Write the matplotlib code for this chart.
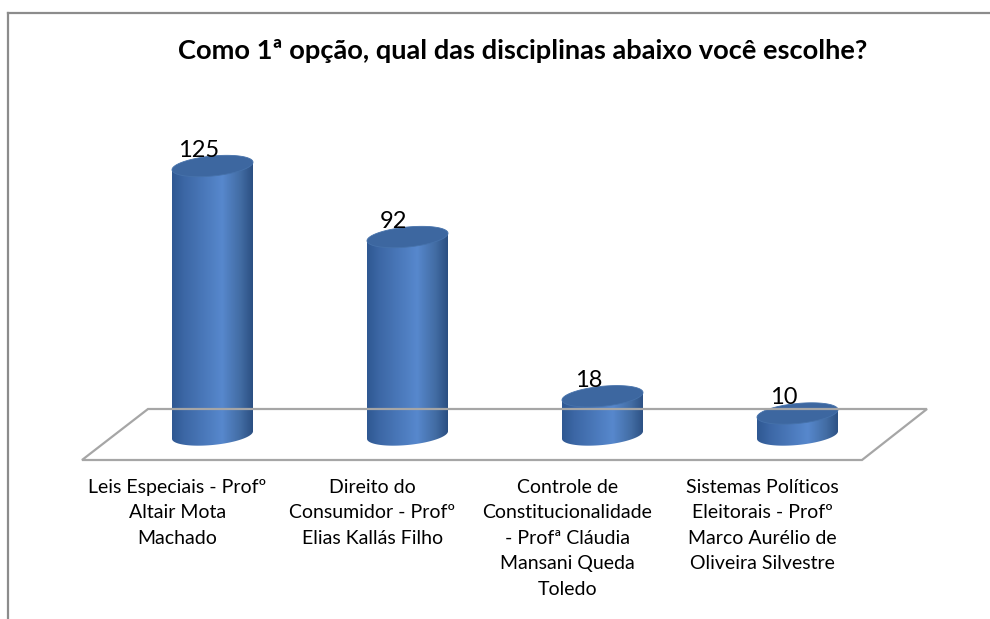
import numpy as np
import matplotlib
matplotlib.use("Agg")
import matplotlib.pyplot as plt
from matplotlib.patches import Polygon
from matplotlib.lines import Line2D
from matplotlib.colors import LinearSegmentedColormap

plt.rcParams['font.family'] = ['Lato', 'DejaVu Sans']

# dados
titulo = "Como 1ª opção, qual das disciplinas abaixo você escolhe?"
categorias = [
    "Leis Especiais - Profº\nAltair Mota\nMachado",
    "Direito do\nConsumidor - Profº\nElias Kallás Filho",
    "Controle de\nConstitucionalidade\n- Profª Cláudia\nMansani Queda\nToledo",
    "Sistemas Políticos\nEleitorais - Profº\nMarco Aurélio de\nOliveira Silvestre",
]
valores = [125, 92, 18, 10]

W, H = 990, 619
fig = plt.figure(figsize=(W / 100, H / 100), dpi=100)
ax = fig.add_axes([0, 0, 1, 1])
ax.axis("off")

def px(x, y):
    # pixels (origem no topo) -> fração da figura
    return (x / W, 1 - y / H)

# borda do gráfico (só topo e esquerda aparecem)
fig.add_artist(Line2D([px(8, 13)[0], 1], [px(8, 13)[1]] * 2, color="#8c8c8c", lw=1.6))
fig.add_artist(Line2D([px(8, 13)[0]] * 2, [px(8, 13)[1], 0], color="#8c8c8c", lw=1.6))

# piso 3D
piso = [px(148, 409), px(927, 409), px(862, 460), px(82, 460)]
fig.add_artist(Polygon(piso, closed=True, fill=False, ec="#a6a6a6", lw=1.6,
                       transform=fig.transFigure, zorder=1))

# escalas: indice -> x, valor -> y
x0, dx = 212.5, 195.0
y0, dy = 435.0, 2.152
ax.set_xlim(-x0 / dx, (W - x0) / dx)
ax.set_ylim(-(H - y0) / dy, y0 / dy)

a = 40.5 / dx      # semi-eixo horizontal
b = 10.0 / dy      # semi-eixo vertical
k = 3.75 / dy      # inclinação da elipse

cmap = LinearSegmentedColormap.from_list("cil", [
    (0.0, "#2f5892"), (0.15, "#3c67a5"), (0.62, "#5788cd"),
    (0.85, "#426ca3"), (1.0, "#2b4f82")])
grad = np.linspace(0, 1, 256).reshape(1, -1)

t_low = np.linspace(np.pi, 2 * np.pi, 80)
t_all = np.linspace(0, 2 * np.pi, 160)

for i, v in enumerate(valores):
    cx = i
    # corpo
    bx = cx + a * np.cos(t_low)
    by = b * np.sin(t_low) + k * np.cos(t_low)
    xs = np.concatenate([[cx - a], bx, [cx + a, cx - a]])
    ys = np.concatenate([[v - k], by, [v + k, v - k]])
    corpo = Polygon(np.column_stack([xs, ys]), closed=True, fc="none", ec="none")
    ax.add_patch(corpo)
    im = ax.imshow(grad, cmap=cmap, aspect="auto", zorder=3,
                   extent=[cx - a, cx + a, -b - k, v + b + k])
    im.set_clip_path(corpo)
    # tampa
    tx = cx + a * np.cos(t_all)
    ty = v + b * np.sin(t_all) + k * np.cos(t_all)
    ax.add_patch(Polygon(np.column_stack([tx, ty]), closed=True,
                         fc="#3d67a0", ec="#4672ab", lw=0.6, zorder=4))
    # rótulo do valor
    ax.annotate(str(v), (cx, v), xytext=(-14 * 0.72, 9 * 0.72),
                textcoords="offset points", ha="center", va="baseline",
                fontsize=17, color="black", zorder=5)
    # rótulo da categoria
    lx, _ = ax.transData.inverted().transform(ax.transData.transform((cx, 0)) - (35, 0))
    ax.text(lx, (y0 - 479) / dy, categorias[i], ha="center", va="top",
            fontsize=14, linespacing=1.6, color="black")

ax.set_xlim(-x0 / dx, (W - x0) / dx)
ax.set_ylim(-(H - y0) / dy, y0 / dy)

fig.text(*px(523, 59), titulo, ha="center", va="baseline",
         fontsize=19.6, fontweight="bold")

fig.savefig("out.png", dpi=100, facecolor="white")
